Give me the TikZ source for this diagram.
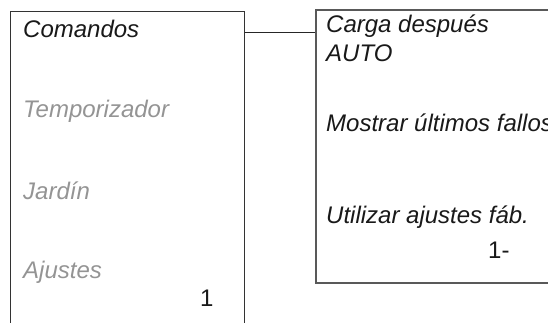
\documentclass[tikz,border=0pt]{standalone}
\usepackage{fontspec}
\setmainfont{Liberation Sans}
\begin{document}
\begin{tikzpicture}[x=1pt,y=-1pt,
  boxstyle/.style={draw=black!80,line width=1pt,rectangle,inner sep=0pt},
  rboxstyle/.style={draw=black!65,line width=1.4pt,rectangle,inner sep=0pt},
  itemtxt/.style={anchor=base west,inner sep=0pt,font=\fontsize{24}{28}\selectfont\itshape,text=black!90},
  greytxt/.style={itemtxt,text=black!42},
  numtxt/.style={anchor=base west,inner sep=0pt,font=\fontsize{24}{28}\selectfont,text=black!90},
  link/.style={draw=black!85,line width=0.9pt}]
\useasboundingbox (0,0) rectangle (548,323);
\clip (0,0) rectangle (548,323);
\node[boxstyle,minimum width=234pt,minimum height=340pt] (lbox) at (127,182) {};
\node[rboxstyle,minimum width=250pt,minimum height=273pt] (rbox) at (441,146.5) {};
\coordinate (ly) at (0,32.5);
\draw[link] (lbox.east |- ly) -- (rbox.west |- ly);
\node[itemtxt] (t1) at (23,38) {Comandos};
\node[greytxt] (t2) at (23,118) {Temporizador};
\node[greytxt] (t3) at (23,199) {Jardín};
\node[greytxt] (t4) at (23,278) {Ajustes};
\node[numtxt] (n1) at (200,306) {1};
\node[itemtxt] (r1) at (326,33) {Carga después};
\node[itemtxt] (r2) at (326,62) {AUTO};
\node[itemtxt] (r3) at (326,132) {Mostrar últimos fallos};
\node[itemtxt] (r4) at (326,223) {Utilizar ajustes fáb.};
\node[numtxt] (n2) at (488,258) {1-};
\end{tikzpicture}
\end{document}
